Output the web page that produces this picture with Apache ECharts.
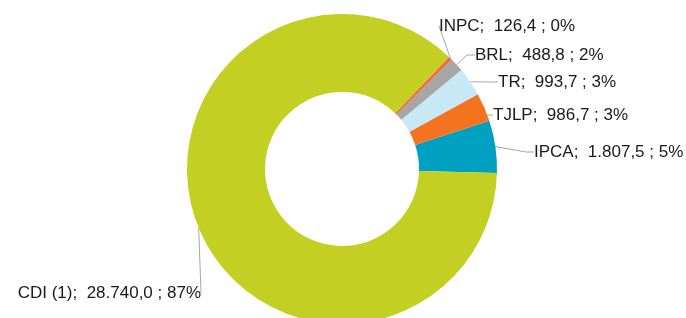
<!DOCTYPE html>
<html>
<head>
<meta charset="utf-8">
<script src="https://cdn.jsdelivr.net/npm/echarts@6/dist/echarts.min.js"></script>
<style>
html, body { margin: 0; padding: 0; background: #fff; }
#main { width: 686px; height: 318px; }
</style>
</head>
<body>
<div id="main"></div>
<script>
var dom = document.getElementById("main");
var myChart = echarts.init(dom);

var names = ['IPCA', 'TJLP', 'TR', 'BRL', 'INPC', 'CDI (1)'];
var values = [1807.5, 986.7, 993.7, 488.8, 126.4, 28740.0];
var colors = ['#00a0c3', '#f37321', '#c8e8f6', '#a6a6a6', '#f26a3c', '#c3cf23'];

// label placement (Excel style), left-aligned except CDI
var labelX = [534, 493, 498, 475, 439, 201];
var labelY = [152, 115, 82, 55, 26, 293];

function fmt(v) {
    var parts = v.toFixed(1).split('.');
    var intPart = parts[0].replace(/\B(?=(\d{3})+(?!\d))/g, '.');
    return intPart + ',' + parts[1];
}

var option = {
    animation: false,
    series: [{
        type: 'pie',
        center: [342, 169],
        radius: [77, 155],
        startAngle: -1.5,
        clockwise: false,
        percentPrecision: 0,
        label: {
            show: true,
            position: 'outside',
            overflow: 'none',
            color: '#1a1a1a',
            fontFamily: 'Liberation Sans',
            fontSize: 17,
            formatter: function (p) {
                return p.name + ';  ' + fmt(p.value) + ' ; ' + p.percent + '%';
            }
        },
        labelLine: {
            show: true,
            length: 8,
            length2: 8,
            lineStyle: { color: '#a6a6a6', width: 1 }
        },
        labelLayout: function (params) {
            var i = params.dataIndex;
            return {
                x: labelX[i],
                y: labelY[i],
                align: i === 5 ? 'right' : 'left',
                verticalAlign: 'middle'
            };
        },
        emphasis: { disabled: true },
        data: names.map(function (n, i) {
            return {
                name: n,
                value: values[i],
                itemStyle: { color: colors[i] }
            };
        })
    }]
};
myChart.setOption(option, true);
</script>
</body>
</html>
